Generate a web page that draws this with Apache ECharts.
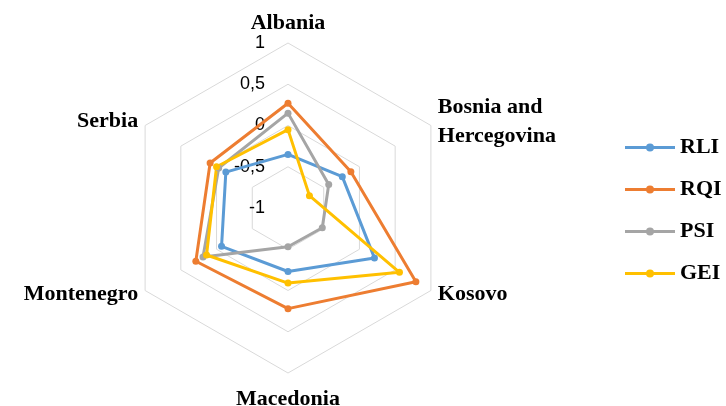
<!DOCTYPE html>
<html>
<head>
<meta charset="utf-8">
<script src="https://cdn.jsdelivr.net/npm/echarts@6/dist/echarts.min.js"></script>
<style>
  html, body { margin: 0; padding: 0; background: #fff; }
  #chart { width: 726px; height: 406px; }
</style>
</head>
<body>
<div id="chart"></div>
<script>
// countries, clockwise from the top
const countries = ['Albania', 'Bosnia and\nHercegovina', 'Kosovo', 'Macedonia', 'Montenegro', 'Serbia']
const seriesNames = ['RLI', 'RQI', 'PSI', 'GEI']
const colors = ['#5B9BD5', '#ED7D31', '#A5A5A5', '#FFC000']

// values per country, same order as countries
const rli = [-0.35, -0.24, 0.21, -0.23, -0.07, -0.13]
const rqi = [0.27, -0.12, 0.79, 0.22, 0.29, 0.09]
const psi = [0.15, -0.43, -0.52, -0.53, 0.19, -0.03]
const gei = [-0.05, -0.70, 0.56, -0.09, 0.14, 0.0]

const axisMin = -1
const axisMax = 1

// echarts lays indicators out counter-clockwise, so flip everything after the first
const ccw = arr => [arr[0]].concat(arr.slice(1).reverse())

const chart = echarts.init(document.getElementById('chart'))

const indicators = ccw(countries).map((name, i) => ({
  name: name,
  min: axisMin,
  max: axisMax,
  // only the top axis carries tick labels
  axisLabel: { show: i === 0 }
}))

const values = [rli, rqi, psi, gei]

chart.setOption({
  animation: false,
  legend: {
    orient: 'vertical',
    left: 620,
    top: 130,
    itemWidth: 50,
    itemHeight: 8,
    itemGap: 17,
    icon: 'path://M0,2.5L50,2.5L50,5.5L0,5.5Z M21,4A4,4,0,1,1,29,4A4,4,0,1,1,21,4Z',
    data: seriesNames,
    textStyle: {
      fontFamily: 'Liberation Serif',
      fontWeight: 'bold',
      fontSize: 22,
      lineHeight: 25,
      color: '#000'
    }
  },
  radar: {
    center: [288, 208],
    radius: 165,
    shape: 'polygon',
    splitNumber: 4,
    nameGap: 8,
    axisName: {
      color: '#000',
      fontFamily: 'Liberation Serif',
      fontWeight: 'bold',
      fontSize: 22,
      lineHeight: 29,
      padding: [4, 0, -4, 0]
    },
    axisLine: { show: false },
    axisTick: { show: false },
    splitArea: { show: false },
    splitLine: {
      lineStyle: { color: '#D9D9D9', width: 1 }
    },
    axisLabel: {
      show: false,
      margin: 23,
      color: '#000',
      fontFamily: 'Liberation Sans',
      fontSize: 18,
      formatter: v => String(v).replace('.', ',')
    },
    indicator: indicators
  },
  series: [{
    type: 'radar',
    symbol: 'circle',
    symbolSize: 7,
    data: seriesNames.map((name, i) => ({
      name: name,
      value: ccw(values[i]),
      itemStyle: { color: colors[i] },
      lineStyle: { color: colors[i], width: 3 }
    }))
  }]
})
</script>
</body>
</html>
